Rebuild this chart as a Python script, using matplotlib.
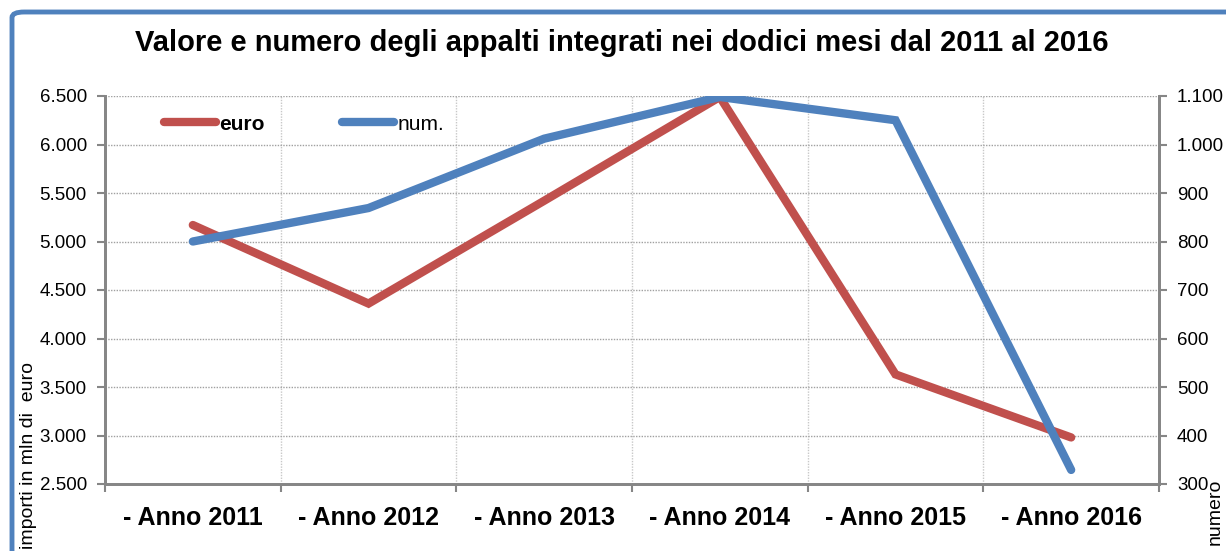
import matplotlib
matplotlib.use("Agg")
import matplotlib.pyplot as plt
from matplotlib.patches import FancyBboxPatch
from matplotlib.ticker import FuncFormatter, FixedLocator

plt.rcParams['font.family'] = ['Liberation Sans', 'DejaVu Sans']

categories = ["- Anno 2011", "- Anno 2012", "- Anno 2013", "- Anno 2014", "- Anno 2015", "- Anno 2016"]
euro = [5170, 4360, 5420, 6490, 3630, 2980]
num = [800, 869, 1012, 1098, 1050, 329]
left_ticks = [2500, 3000, 3500, 4000, 4500, 5000, 5500, 6000, 6500]
right_ticks = [300, 400, 500, 600, 700, 800, 900, 1000, 1100]

RED = "#C0504D"
BLUE = "#4F81BD"
GRAY = "#868686"

def fmt(v, pos=None):
    return f"{int(v):,}".replace(",", ".")

fig = plt.figure(figsize=(12.26, 5.51), dpi=100)
W, H = 1226, 551
ax = fig.add_axes([105 / W, 1 - 484 / H, (1159 - 105) / W, (484 - 96) / H])
ax2 = ax.twinx()

x = list(range(len(categories)))
l1, = ax.plot(x, euro, color=RED, lw=6, solid_capstyle='round', solid_joinstyle='miter', zorder=3)
l2, = ax2.plot(x, num, color=BLUE, lw=6, solid_capstyle='round', solid_joinstyle='miter', zorder=3)

ax.set_xlim(-0.5, len(categories) - 0.5)
ax.set_ylim(2500, 6500)
ax2.set_ylim(300, 1100)
ax.set_yticks(left_ticks)
ax2.set_yticks(right_ticks)
ax.yaxis.set_major_formatter(FuncFormatter(fmt))
ax2.yaxis.set_major_formatter(FuncFormatter(fmt))

ax.set_xticks(x)
ax.set_xticklabels(categories, fontsize=18, fontweight='bold')
ax.xaxis.set_minor_locator(FixedLocator([i - 0.5 for i in range(len(categories) + 1)]))
ax.tick_params(axis='x', which='major', length=0, pad=16)
ax.tick_params(axis='x', which='minor', length=6, width=1.5, color=GRAY, direction='out')
ax.tick_params(axis='y', length=6, width=1.5, color=GRAY, labelsize=13.5, pad=7)
ax2.tick_params(axis='y', length=6, width=1.5, color=GRAY, labelsize=13.5, pad=7)

ax.grid(True, axis='y', which='major', color='#A0A0A0', linestyle=(0, (1, 1)), lw=1)
ax.grid(True, axis='x', which='minor', color='#C8C8C8', linestyle=(0, (1, 1)), lw=1)
ax.set_axisbelow(True)

for a in (ax, ax2):
    a.spines['top'].set_visible(False)
    for s in ('left', 'right', 'bottom'):
        a.spines[s].set_color(GRAY)
        a.spines[s].set_linewidth(2)

fig.text(621.5 / W, 1 - 43 / H, "Valore e numero degli appalti integrati nei dodici mesi dal 2011 al 2016",
         ha='center', va='center', fontsize=21, fontweight='bold')

fig.text(29 / W, 1 - 549 / H, "importi in mln di  euro", rotation=90, ha='center', va='bottom', fontsize=14)
fig.text(1215 / W, 1 - 545 / H, "numero", rotation=90, ha='center', va='bottom', fontsize=14)

leg = ax.legend([l1, l2], ["euro", "num."], loc='upper left', bbox_to_anchor=(0.0385, 1.0),
                ncol=2, frameon=False, fontsize=15, handlelength=2.5, columnspacing=3.7,
                handletextpad=0.15)
leg.get_texts()[0].set_fontweight('bold')
for h in leg.legend_handles:
    h.set_linewidth(6)

frame = FancyBboxPatch((12 / W, -0.2), 1.3, 1 - 12 / H + 0.2, boxstyle="round,pad=0,rounding_size=0.01",
                       transform=fig.transFigure, fill=False, edgecolor=BLUE, lw=3.5, clip_on=False)
fig.patches.append(frame)

fig.savefig("out.png", dpi=100)
